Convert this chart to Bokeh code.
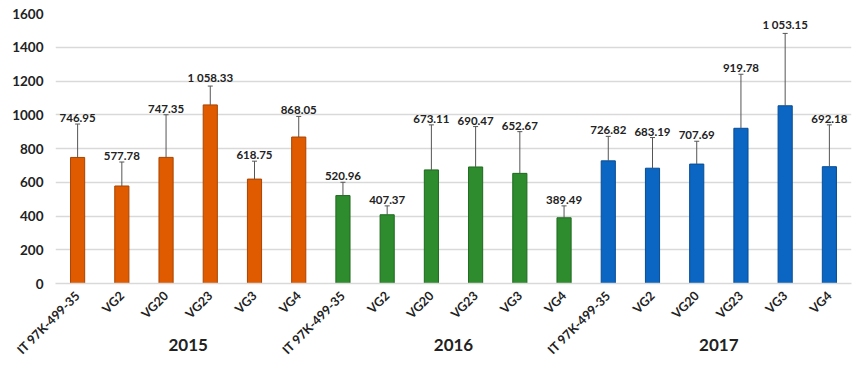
import math
from bokeh.plotting import figure
from bokeh.models import ColumnDataSource, FactorRange, Whisker, LabelSet, FixedTicker, CategoricalAxis
from bokeh.core.properties import value
from bokeh.embed import file_html
from bokeh.resources import INLINE

years = ["2015", "2016", "2017"]
varieties = ["IT 97K-499-35", "VG2", "VG20", "VG23", "VG3", "VG4"]
yield_2015 = [746.95, 577.78, 747.35, 1058.33, 618.75, 868.05]
yield_2016 = [520.96, 407.37, 673.11, 690.47, 652.67, 389.49]
yield_2017 = [726.82, 683.19, 707.69, 919.78, 1053.15, 692.18]
err_top_2015 = [945, 720, 1000, 1170, 725, 990]
err_top_2016 = [600, 460, 940, 930, 900, 460]
err_top_2017 = [872, 865, 843, 1240, 1482, 940]
year_colors = ["#E05A00", "#2E8B2E", "#0A66C2"]
year_borders = ["#A84400", "#1E6A1E", "#084C94"]
y_ticks = [0, 200, 400, 600, 800, 1000, 1200, 1400, 1600]

FONT = "Lato"

xs, vals, tops, fills, lines, labels = [], [], [], [], [], []
for yr, vs, ts, c, b in zip(years, [yield_2015, yield_2016, yield_2017],
                            [err_top_2015, err_top_2016, err_top_2017],
                            year_colors, year_borders):
    for name, v, t in zip(varieties, vs, ts):
        xs.append((yr, name))
        vals.append(v)
        tops.append(t)
        fills.append(c)
        lines.append(b)
        labels.append(f"{v:,.2f}".replace(",", " "))

src = ColumnDataSource(dict(x=xs, v=vals, top=tops, fill=fills, line=lines, lab=labels))

p = figure(x_range=FactorRange(*xs, range_padding=0.0, group_padding=0.0, factor_padding=0.0),
           y_range=(0, 1600), width=858, height=365,
           output_backend="svg", toolbar_location=None,
           min_border_left=55, min_border_right=7, min_border_top=13, min_border_bottom=80)
p.extra_x_ranges = {"years": FactorRange(*years, range_padding=0.0, factor_padding=0.0)}

p.vbar(x="x", top="v", width=0.32, source=src, fill_color="fill", line_color="line", line_width=1)

w = Whisker(base="x", upper="top", lower="v", source=src,
            line_color="#555555", line_width=1, level="overlay")
w.upper_head.size = 5
w.upper_head.line_color = "#555555"
w.lower_head = None
p.add_layout(w)

p.add_layout(LabelSet(x="x", y="top", text="lab", source=src,
                      text_align="center", text_baseline="bottom", y_offset=2, text_font=value(FONT),
                      text_font_style="bold", text_font_size="11.5px", text_color="#222222"))

p.outline_line_color = None
p.xgrid.grid_line_color = None
p.ygrid.grid_line_color = "#D9D9D9"
p.ygrid.grid_line_width = 1.5
p.yaxis.ticker = FixedTicker(ticks=y_ticks)
p.yaxis.axis_line_color = None
p.yaxis.major_tick_line_color = None
p.yaxis.minor_tick_line_color = None
p.yaxis.major_label_text_font = FONT
p.yaxis.major_label_text_font_style = "bold"
p.yaxis.major_label_text_font_size = "13.5px"
p.yaxis.major_label_text_color = "#222222"
p.yaxis.major_label_standoff = 6

p.xaxis.axis_line_color = "#D9D9D9"
p.xaxis.axis_line_width = 1.5
p.xaxis.major_tick_line_color = None
p.xaxis.minor_tick_line_color = None
p.xaxis.major_label_orientation = math.pi / 4
p.xaxis.major_label_text_font = FONT
p.xaxis.major_label_text_font_style = "bold"
p.xaxis.major_label_text_font_size = "12.5px"
p.xaxis.major_label_text_color = "#222222"
p.xaxis.major_label_standoff = 4
p.xaxis.group_text_font_size = "1px"
p.xaxis.group_text_alpha = 0
p.xaxis.separator_line_alpha = 0

year_axis = CategoricalAxis(x_range_name="years", axis_line_color=None,
                            major_tick_line_color=None, minor_tick_line_color=None,
                            major_label_standoff=-33, major_label_text_font=FONT,
                            major_label_text_font_style="bold", major_label_text_font_size="17px",
                            major_label_text_color="#222222")
p.add_layout(year_axis, "below")

open("out.html", "w").write(file_html(p, INLINE))
